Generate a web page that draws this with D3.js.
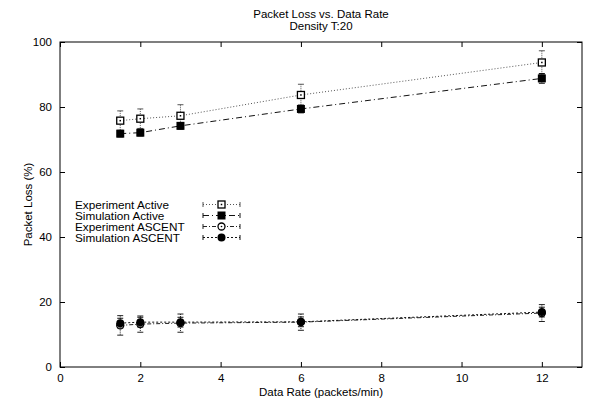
<!DOCTYPE html>
<html><head><meta charset="utf-8">
<script src="https://cdn.jsdelivr.net/npm/d3@7"></script>
<style>body{margin:0;background:#fff}svg{display:block}text{font-family:"Liberation Sans",Arial,Helvetica,sans-serif;fill:#000}</style>
</head><body>
<script>
const rates = [1.5, 2, 3, 6, 12];
const expActive = [75.8, 76.4, 77.3, 83.7, 93.7];
const expActiveErr = [3.0, 3.0, 3.4, 3.3, 3.6];
const simActive = [71.8, 72.1, 74.2, 79.4, 88.8];
const simActiveErr = [1.0, 1.0, 1.0, 1.2, 1.5];
const expAscent = [12.8, 13.2, 13.5, 13.8, 16.6];
const expAscentErr = [3.0, 2.5, 2.8, 2.5, 2.6];
const simAscent = [13.5, 13.8, 13.8, 13.9, 16.9];
const simAscentErr = [1.5, 1.5, 1.5, 1.5, 1.5];
const xTicks = [0, 2, 4, 6, 8, 10, 12];
const yTicks = [0, 20, 40, 60, 80, 100];
const seriesNames = ["Experiment Active", "Simulation Active", "Experiment ASCENT", "Simulation ASCENT"];

const W = 600, H = 402;
const m = {l: 60, r: 18, t: 42, b: 35};
const svg = d3.select("body").append("svg").attr("width", W).attr("height", H);
const x = d3.scaleLinear().domain([0, 13]).range([m.l, W - m.r]);
const y = d3.scaleLinear().domain([0, 100]).range([H - m.b, m.t]);

const series = [
  {name: seriesNames[0], v: expActive, e: expActiveErr, dash: "1,2", color: "#555", marker: "openSquare"},
  {name: seriesNames[1], v: simActive, e: simActiveErr, dash: "6,3,1,3", color: "#111", marker: "filledSquare"},
  {name: seriesNames[2], v: expAscent, e: expAscentErr, dash: "4,2,1,2", color: "#222", marker: "openCircle"},
  {name: seriesNames[3], v: simAscent, e: simAscentErr, dash: "2,2", color: "#111", marker: "filledCircle"}
];

// frame
svg.append("rect").attr("x", x(0)).attr("y", y(100)).attr("width", x(13) - x(0)).attr("height", y(0) - y(100))
  .attr("fill", "none").attr("stroke", "#000").attr("stroke-width", 1);

// axes with inward ticks
const ax = d3.axisBottom(x).tickValues(xTicks).tickSize(-5).tickPadding(7).tickFormat(d3.format("d"));
svg.append("g").attr("transform", `translate(0,${y(0)})`).call(ax);
const axT = d3.axisTop(x).tickValues(xTicks).tickSize(-5).tickFormat("");
svg.append("g").attr("transform", `translate(0,${y(100)})`).call(axT);
const ay = d3.axisLeft(y).tickValues(yTicks).tickSize(-5).tickPadding(8).tickFormat(d3.format("d"));
svg.append("g").attr("transform", `translate(${x(0)},0)`).call(ay);
const ayR = d3.axisRight(y).tickValues(yTicks).tickSize(-5).tickFormat("");
svg.append("g").attr("transform", `translate(${x(13)},0)`).call(ayR);
svg.selectAll(".domain").remove();
svg.selectAll(".tick line").attr("stroke", "#000");
svg.selectAll(".tick text").attr("font-size", 11.5).attr("font-family", "Liberation Sans, Arial, sans-serif");

// titles
svg.append("text").attr("x", (x(0) + x(13)) / 2).attr("y", 18).attr("text-anchor", "middle").attr("font-size", 11.5).text("Packet Loss vs. Data Rate");
svg.append("text").attr("x", (x(0) + x(13)) / 2).attr("y", 30).attr("text-anchor", "middle").attr("font-size", 11.5).text("Density T:20");
svg.append("text").attr("x", (x(0) + x(13)) / 2).attr("y", 396).attr("text-anchor", "middle").attr("font-size", 11.5).text("Data Rate (packets/min)");
svg.append("text").attr("transform", `translate(32,${(y(0) + y(100)) / 2}) rotate(-90)`).attr("text-anchor", "middle").attr("font-size", 11.5).text("Packet Loss (%)");

function drawMarker(sel, type, cx, cy) {
  if (type === "openSquare") {
    sel.append("rect").attr("x", cx - 3.5).attr("y", cy - 3.5).attr("width", 7).attr("height", 7).attr("fill", "#fff").attr("stroke", "#000").attr("stroke-width", 1.3);
    sel.append("rect").attr("x", cx - 0.75).attr("y", cy - 0.75).attr("width", 1.5).attr("height", 1.5).attr("fill", "#000");
  } else if (type === "filledSquare") {
    sel.append("rect").attr("x", cx - 4).attr("y", cy - 4).attr("width", 8).attr("height", 8).attr("fill", "#000");
  } else if (type === "openCircle") {
    sel.append("circle").attr("cx", cx).attr("cy", cy).attr("r", 3.5).attr("fill", "#fff").attr("stroke", "#000").attr("stroke-width", 1.3);
    sel.append("circle").attr("cx", cx).attr("cy", cy).attr("r", 0.8).attr("fill", "#000");
  } else {
    sel.append("circle").attr("cx", cx).attr("cy", cy).attr("r", 4).attr("fill", "#000");
  }
}

const line = d3.line().x(d => x(d[0])).y(d => y(d[1]));
series.forEach(s => {
  const pts = rates.map((r, i) => [r, s.v[i], s.e[i]]);
  const gs = svg.append("g");
  gs.append("path").attr("d", line(pts)).attr("fill", "none").attr("stroke", s.color).attr("stroke-width", 1).attr("stroke-dasharray", s.dash);
  pts.forEach(p => {
    const cx = x(p[0]), y1 = y(p[1] + p[2]), y2 = y(p[1] - p[2]);
    gs.append("line").attr("x1", cx).attr("x2", cx).attr("y1", y1).attr("y2", y2).attr("stroke", s.color).attr("stroke-dasharray", "1,1");
    gs.append("line").attr("x1", cx - 3).attr("x2", cx + 3).attr("y1", y1).attr("y2", y1).attr("stroke", s.color);
    gs.append("line").attr("x1", cx - 3).attr("x2", cx + 3).attr("y1", y2).attr("y2", y2).attr("stroke", s.color);
  });
  pts.forEach(p => drawMarker(gs, s.marker, x(p[0]), y(p[1])));
});

// legend
const legY0 = 204.5, legDy = 11;
series.forEach((s, i) => {
  const ly = legY0 + i * legDy;
  svg.append("text").attr("transform", `translate(75,${ly + 4}) scale(1.12,1)`).attr("font-size", 10.5).text(s.name);
  const x1 = 203, x2 = 240;
  svg.append("line").attr("x1", x1).attr("x2", x2).attr("y1", ly).attr("y2", ly).attr("stroke", s.color).attr("stroke-dasharray", s.dash);
  svg.append("line").attr("x1", x1).attr("x2", x1).attr("y1", ly - 2.5).attr("y2", ly + 2.5).attr("stroke", s.color);
  svg.append("line").attr("x1", x2).attr("x2", x2).attr("y1", ly - 2.5).attr("y2", ly + 2.5).attr("stroke", s.color);
  drawMarker(svg, s.marker, (x1 + x2) / 2, ly);
});
</script>
</body></html>
